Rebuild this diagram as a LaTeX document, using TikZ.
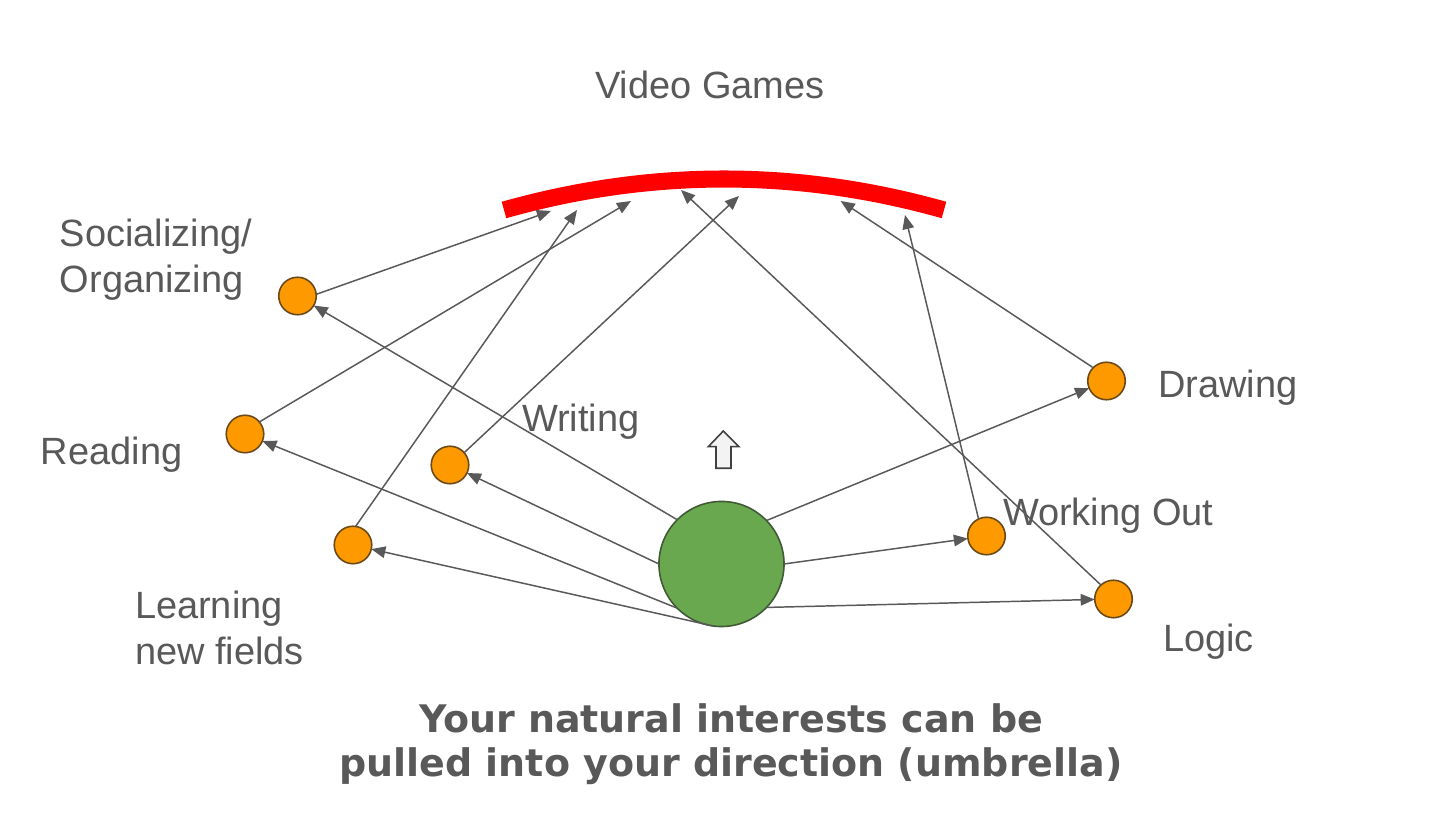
\documentclass[tikz,border=0pt]{standalone}
\usepackage{fontspec}
\setmainfont{Liberation Sans}
\newfontfamily\titlefont{DejaVu Sans}
\usetikzlibrary{arrows.meta}
\definecolor{txt}{HTML}{595959}
\definecolor{ln}{HTML}{595959}
\definecolor{org}{HTML}{FF9900}
\definecolor{orgb}{HTML}{6B4A1A}
\definecolor{grn}{HTML}{6AA84F}
\definecolor{grnb}{HTML}{3F5A35}
\definecolor{arcred}{HTML}{FF0000}
\definecolor{blk}{HTML}{F3F3F3}
\definecolor{blkb}{HTML}{404040}
\begin{document}
\begin{tikzpicture}[x=0.01cm,y=-0.01cm,
  lbl/.style={font=\fontsize{10.8pt}{13pt}\selectfont, text=txt, inner sep=0pt, outer sep=0pt},
  ttl/.style={font=\titlefont\bfseries\fontsize{10.8pt}{13pt}\selectfont, text=txt, inner sep=0pt, outer sep=0pt},
  dot/.style={circle, fill=org, draw=orgb, line width=0.45pt, minimum size=0.375cm, inner sep=0pt, outer sep=0pt},
  hub/.style={circle, fill=grn, draw=grnb, line width=0.45pt, minimum size=1.25cm, inner sep=0pt, outer sep=0pt},
  conn/.style={draw=ln, line width=0.42pt, -{Triangle[length=4pt,width=3.3pt]}},
  umbrella/.style={draw=arcred, line width=4.85pt}]
\fill[white] (0,0) rectangle (1456,816);
\useasboundingbox (0,0) rectangle (1456,816);

% umbrella arc
\draw[umbrella] (504,210) .. controls (650.7,168.7) and (797.3,168.7) .. (944,210);

% arrow targets on the arc
\coordinate (a1) at (551,211);
\coordinate (a2) at (577,210);
\coordinate (a3) at (631,201);
\coordinate (a4) at (681,190);
\coordinate (a5) at (739,196);
\coordinate (a6) at (840.7,201);
\coordinate (a7) at (905,215);

% nodes
\node[hub] (g) at (721.5,564) {};
\node[dot] (soc) at (297.5,296) {};
\node[dot] (read) at (245,434) {};
\node[dot] (writ) at (450,465) {};
\node[dot] (learn) at (353,545) {};
\node[dot] (drw) at (1106.5,381) {};
\node[dot] (work) at (986.5,536) {};
\node[dot] (logic) at (1113.5,599) {};

% up arrow icon
\draw[fill=blk, draw=blkb, line width=0.45pt] (723.3,431) -- (739,446.7) -- (731,446.7) -- (731,468.3) -- (716,468.3) -- (716,446.7) -- (708.3,446.7) -- cycle;

% from hub to interests
\draw[conn] (g.135) -- (soc);
\draw[conn] (g.225) -- (read);
\draw[conn] (g.180) -- (writ);
\draw[conn] (g.262) -- (learn);
\draw[conn] (g.44) -- (drw);
\draw[conn] (g.0) -- (work);
\draw[conn] (g.316) -- (logic);

% from interests to umbrella
\draw[conn] (soc.5) -- (a1);
\draw[conn] (read.40) -- (a3);
\draw[conn] (learn.82) -- (a2);
\draw[conn] (writ.41) -- (a5);
\draw[conn] (logic.132) -- (a4);
\draw[conn] (drw.135) -- (a6);
\draw[conn] (work.115) -- (a7);

% labels
\node[lbl, anchor=base] (vg) at (710,99) {Video Games};
\node[lbl, anchor=base west] (tsoc1) at (60,247) {Socializing/};
\node[lbl, anchor=base west] (tsoc2) at (60,293) {Organizing};
\node[lbl, anchor=base west] (tread) at (41,465) {Reading};
\node[lbl, anchor=base west] (twrit) at (522,432) {Writing};
\node[lbl, anchor=base west] (tlearn1) at (135,619) {Learning};
\node[lbl, anchor=base west] (tlearn2) at (135,665) {new fields};
\node[lbl, anchor=base west] (tdrw) at (1158,398) {Drawing};
\node[lbl, anchor=base west] (twork) at (1003,526) {Working Out};
\node[lbl, anchor=base west] (tlogic) at (1163,652) {Logic};

% title
\node[ttl, anchor=base] (title1) at (731,733) {Your natural interests can be};
\node[ttl, anchor=base] (title2) at (731,777) {pulled into your direction (umbrella)};
\end{tikzpicture}
\end{document}
